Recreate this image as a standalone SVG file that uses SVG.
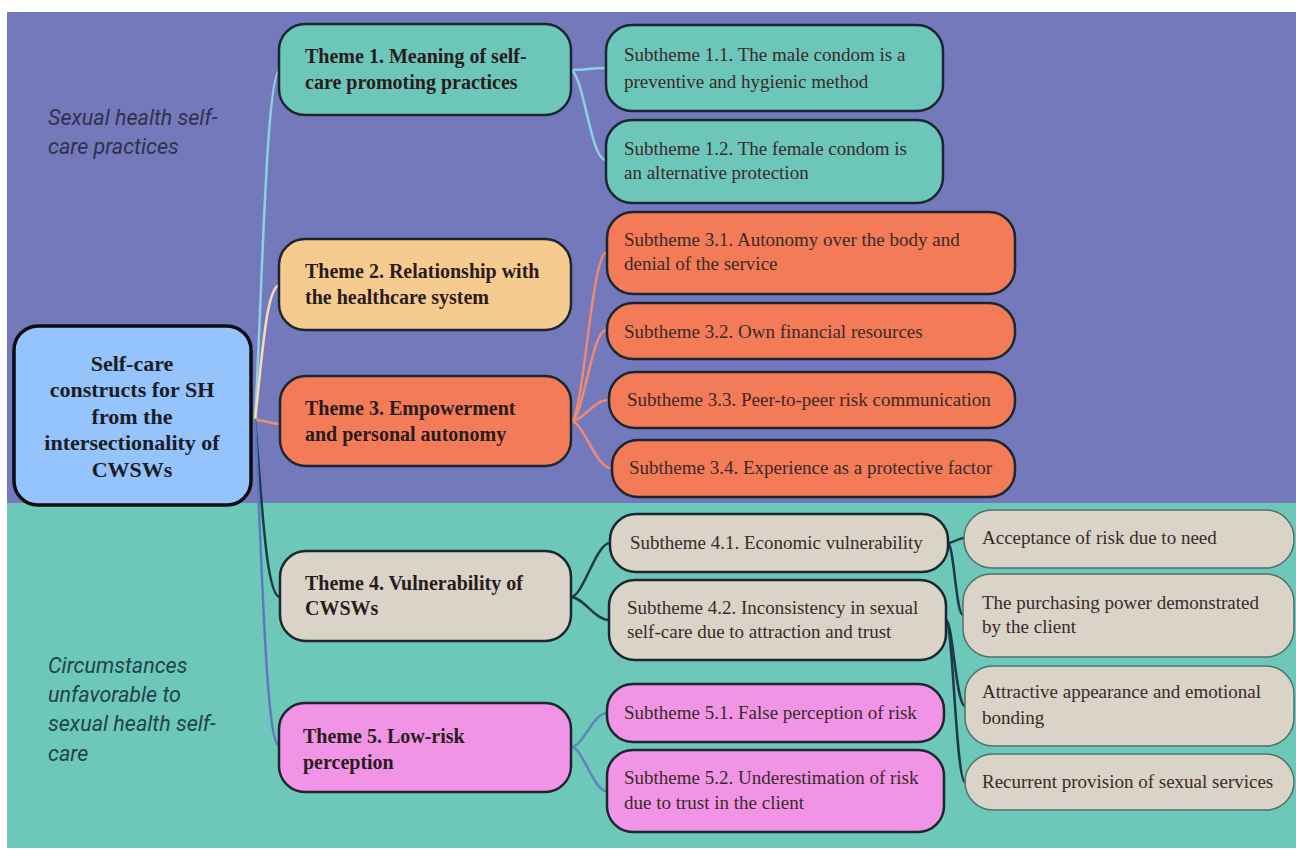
<svg xmlns="http://www.w3.org/2000/svg" width="1296" height="850" viewBox="0 0 1296 850">
<style>
.bgP{fill:#7479BC}
.bgT{fill:#6DC8BA}
.box{stroke:#1b2630;stroke-width:2.5}
.root{fill:#94C4FB;stroke:#0d0d12;stroke-width:3.5}
.teal{fill:#6CC6B9}
.cream{fill:#F6CB90}
.orange{fill:#F37B57}
.beige{fill:#DAD3C8}
.pink{fill:#F294E6}
.leaf{fill:#DAD3C8;stroke:#4f7268;stroke-width:1.5}
.tb{font-family:"Liberation Serif","Times New Roman",serif;font-weight:bold;font-size:20px;fill:#2a1c1c}
.tr{font-family:"Liberation Serif","Times New Roman",serif;font-size:19px;fill:#3a2a2a}
.rt{font-family:"Liberation Serif","Times New Roman",serif;font-weight:bold;font-size:22px;fill:#1c1c24;text-anchor:middle}
.lab{font-family:Roboto,"Liberation Sans",sans-serif;font-style:italic;font-size:21.5px}
.c{fill:none;stroke-width:2.5;stroke-linecap:round}
.cy{stroke:#8DD0E0}.cr{stroke:#F3DDB5}.co{stroke:#EE8A72}.cn{stroke:#1B3A4A}.cv{stroke:#5E78C0}.cs{stroke:#5E86B8}
</style>
<rect x="0" y="0" width="1296" height="850" fill="#ffffff"/>
<rect class="bgP" x="7" y="12" width="1289" height="491"/>
<rect class="bgT" x="7" y="503" width="1289" height="345"/>

<g id="label-top">
<text class="lab" fill="#30314c" x="48" y="125">Sexual health self-</text>
<text class="lab" fill="#30314c" x="48" y="154">care practices</text>
</g>
<g id="label-bottom">
<text class="lab" fill="#24424a" x="48" y="673">Circumstances</text>
<text class="lab" fill="#24424a" x="48" y="702">unfavorable to</text>
<text class="lab" fill="#24424a" x="48" y="731">sexual health self-</text>
<text class="lab" fill="#24424a" x="48" y="761">care</text>
</g>

<g id="connectors">
<path class="c cy" d="M255,420 C262,300 266,70 280,70"/>
<path class="c cr" d="M255,420 C262,360 266,285 280,285"/>
<path class="c co" d="M255,420 C265,420 270,424 280,424"/>
<path class="c cn" d="M255,420 C262,500 266,597 280,597"/>
<path class="c cv" d="M255,420 C262,560 266,745 279,745"/>
<path class="c cy" d="M570,70 C585,70 592,68 606,68"/>
<path class="c cy" d="M570,70 C584,72 590,160 606,160"/>
<path class="c co" d="M571,421 C583,421 592,253 606,253"/>
<path class="c co" d="M571,421 C583,421 592,330 606,330"/>
<path class="c co" d="M571,421 C583,421 594,400 608,400"/>
<path class="c co" d="M571,421 C583,421 596,468 611,468"/>
<path class="c cn" d="M571,597 C583,597 596,543 610,543"/>
<path class="c cn" d="M571,597 C583,597 595,620 609,620"/>
<path class="c cs" d="M571,747 C583,747 593,713 607,713"/>
<path class="c cs" d="M571,747 C583,747 593,791 607,791"/>
<path class="c cn" d="M948,543 C954,543 958,538 964,538"/>
<path class="c cn" d="M948,543 C954,545 956,615 963,615"/>
<path class="c cn" d="M946,620 C953,622 956,706 965,706"/>
<path class="c cn" d="M946,620 C953,622 956,782 965,782"/>
</g>

<g id="root">
<rect class="root" x="14" y="326" width="237" height="179" rx="24"/>
<text class="rt" x="132" y="371">Self-care</text>
<text class="rt" x="132" y="397">constructs for SH</text>
<text class="rt" x="132" y="424">from the</text>
<text class="rt" x="132" y="450">intersectionality of</text>
<text class="rt" x="132" y="477">CWSWs</text>
</g>

<g id="theme1">
<rect class="box teal" x="279" y="24" width="292" height="91" rx="26"/>
<text class="tb" x="305" y="63">Theme 1. Meaning of self-</text>
<text class="tb" x="305" y="89">care promoting practices</text>
</g>
<g id="theme2">
<rect class="box cream" x="279" y="239" width="292" height="91" rx="26"/>
<text class="tb" x="305" y="278">Theme 2. Relationship with</text>
<text class="tb" x="305" y="304">the healthcare system</text>
</g>
<g id="theme3">
<rect class="box orange" x="280" y="376" width="291" height="90" rx="26"/>
<text class="tb" x="305" y="415">Theme 3. Empowerment</text>
<text class="tb" x="305" y="441">and personal autonomy</text>
</g>
<g id="theme4">
<rect class="box beige" x="280" y="551" width="291" height="90" rx="26"/>
<text class="tb" x="305" y="590">Theme 4. Vulnerability of</text>
<text class="tb" x="305" y="615">CWSWs</text>
</g>
<g id="theme5">
<rect class="box pink" x="279" y="703" width="292" height="89" rx="26"/>
<text class="tb" x="303" y="743">Theme 5. Low-risk</text>
<text class="tb" x="303" y="769">perception</text>
</g>

<g id="sub11">
<rect class="box teal" x="606" y="25" width="337" height="86" rx="26"/>
<text class="tr" x="624" y="61">Subtheme 1.1. The male condom is a</text>
<text class="tr" x="624" y="88">preventive and hygienic method</text>
</g>
<g id="sub12">
<rect class="box teal" x="606" y="120" width="337" height="83" rx="26"/>
<text class="tr" x="624" y="155">Subtheme 1.2. The female condom is</text>
<text class="tr" x="624" y="179">an alternative protection</text>
</g>
<g id="sub31">
<rect class="box orange" x="607" y="212" width="408" height="82" rx="26"/>
<text class="tr" x="624" y="246">Subtheme 3.1. Autonomy over the body and</text>
<text class="tr" x="624" y="270">denial of the service</text>
</g>
<g id="sub32">
<rect class="box orange" x="607" y="303" width="408" height="56" rx="26"/>
<text class="tr" x="624" y="338">Subtheme 3.2. Own financial resources</text>
</g>
<g id="sub33">
<rect class="box orange" x="609" y="372" width="406" height="56" rx="26"/>
<text class="tr" x="627" y="406">Subtheme 3.3. Peer-to-peer risk communication</text>
</g>
<g id="sub34">
<rect class="box orange" x="612" y="440" width="403" height="57" rx="26"/>
<text class="tr" x="629" y="474">Subtheme 3.4. Experience as a protective factor</text>
</g>
<g id="sub41">
<rect class="box beige" x="610" y="514" width="338" height="58" rx="26"/>
<text class="tr" x="630" y="549">Subtheme 4.1. Economic vulnerability</text>
</g>
<g id="sub42">
<rect class="box beige" x="609" y="580" width="337" height="80" rx="26"/>
<text class="tr" x="627" y="614">Subtheme 4.2. Inconsistency in sexual</text>
<text class="tr" x="627" y="638">self-care due to attraction and trust</text>
</g>
<g id="sub51">
<rect class="box pink" x="607" y="684" width="337" height="58" rx="26"/>
<text class="tr" x="624" y="719">Subtheme 5.1. False perception of risk</text>
</g>
<g id="sub52">
<rect class="box pink" x="607" y="750" width="337" height="82" rx="26"/>
<text class="tr" x="624" y="784">Subtheme 5.2. Underestimation of risk</text>
<text class="tr" x="624" y="809">due to trust in the client</text>
</g>

<g id="leaf1">
<rect class="leaf" x="964" y="510" width="330" height="58" rx="28"/>
<text class="tr" x="982" y="544">Acceptance of risk due to need</text>
</g>
<g id="leaf2">
<rect class="leaf" x="963" y="574" width="331" height="83" rx="28"/>
<text class="tr" x="982" y="609">The purchasing power demonstrated</text>
<text class="tr" x="982" y="633">by the client</text>
</g>
<g id="leaf3">
<rect class="leaf" x="965" y="666" width="329" height="80" rx="28"/>
<text class="tr" x="982" y="698">Attractive appearance and emotional</text>
<text class="tr" x="982" y="724">bonding</text>
</g>
<g id="leaf4">
<rect class="leaf" x="965" y="754" width="329" height="56" rx="28"/>
<text class="tr" x="982" y="788">Recurrent provision of sexual services</text>
</g>
</svg>
